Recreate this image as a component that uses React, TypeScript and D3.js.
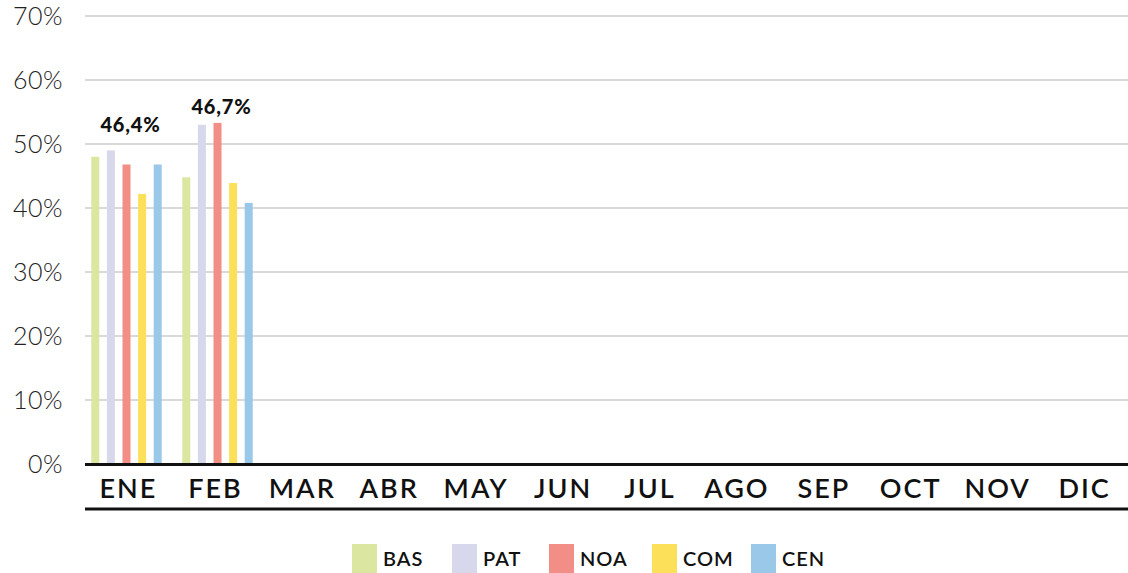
import React from "react";
import * as d3 from "d3";

const months = ["ENE", "FEB", "MAR", "ABR", "MAY", "JUN", "JUL", "AGO", "SEP", "OCT", "NOV", "DIC"];
const seriesNames = ["BAS", "PAT", "NOA", "COM", "CEN"];
const seriesColors = ["#dbe6a0", "#d8d8ec", "#f28e86", "#fce05a", "#99c8e8"];
const BAS = [48.0, 44.8];
const PAT = [49.0, 53.0];
const NOA = [46.8, 53.3];
const COM = [42.2, 43.9];
const CEN = [46.8, 40.8];
const totalLabels = ["46,4%", "46,7%"];
const yTicks = [0, 10, 20, 30, 40, 50, 60, 70];

const seriesValues = [BAS, PAT, NOA, COM, CEN];

const W = 1128;
const H = 573;
const plotLeft = 85;
const plotRight = 1128;
const plotTop = 16;
const plotBottom = 464;
const labelDy = [-18.5, -8.5];
const legendX = [352, 452, 549, 652, 751];

export default function App() {
  const x = d3.scaleBand<string>().domain(months).range([plotLeft, plotRight]);
  const xBars = d3.scaleBand<string>().domain(months).range([81, 1173]);
  const y = d3.scaleLinear().domain([0, 70]).range([plotBottom, plotTop]);
  const barW = 8;
  const barStep = 15.6;
  const groupW = barStep * (seriesNames.length - 1) + barW;

  return (
    <svg
      width={W}
      height={H}
      style={{ position: "absolute", left: 0, top: 0, display: "block", background: "#fff" }}
    >
      {yTicks.map((t) => (
        <g key={t}>
          {t > 0 && (
            <line x1={plotLeft} x2={plotRight} y1={y(t)} y2={y(t)} stroke="#b3b3b3" strokeWidth={1} />
          )}
          <text
            x={63}
            y={y(t) + 9}
            textAnchor="end"
            fontFamily="Lato, sans-serif"
            fontWeight={300}
            fontSize={25}
            letterSpacing={0.5}
            fill="#222"
          >
            {t}%
          </text>
        </g>
      ))}
      {months.map((m, i) => {
        const cx = (x(m) as number) + x.bandwidth() / 2;
        const gx = (xBars(m) as number) + xBars.bandwidth() / 2;
        const start = gx - groupW / 2;
        return (
          <g key={m}>
            {seriesValues.map((vals, s) =>
              vals[i] !== undefined ? (
                <rect
                  key={s}
                  x={start + s * barStep}
                  y={y(vals[i])}
                  width={barW}
                  height={plotBottom - y(vals[i])}
                  fill={seriesColors[s]}
                />
              ) : null
            )}
            {totalLabels[i] !== undefined && (
              <text
                x={gx + 4}
                y={y(d3.max(seriesValues, (v) => v[i]) as number) + labelDy[i]}
                textAnchor="middle"
                fontFamily="Lato, sans-serif"
                fontWeight={900}
                fontSize={20}
                letterSpacing={0.8}
                fill="#111"
              >
                {totalLabels[i]}
              </text>
            )}
            <text
              x={cx}
              y={498}
              textAnchor="middle"
              fontFamily="Lato, sans-serif"
              fontWeight={600}
              fontSize={27}
              letterSpacing={2}
              fill="#111"
            >
              {m}
            </text>
          </g>
        );
      })}
      <line x1={plotLeft} x2={plotRight} y1={plotBottom + 0.5} y2={plotBottom + 0.5} stroke="#111" strokeWidth={3} />
      <line x1={plotLeft} x2={plotRight} y1={509} y2={509} stroke="#111" strokeWidth={3} />
      {seriesNames.map((n, i) => (
        <g key={n}>
          <rect x={legendX[i]} y={544} width={25} height={30} fill={seriesColors[i]} />
          <text
            x={legendX[i] + 31}
            y={566}
            fontFamily="Lato, sans-serif"
            fontWeight={600}
            fontSize={20}
            letterSpacing={1}
            fill="#111"
          >
            {n}
          </text>
        </g>
      ))}
    </svg>
  );
}
